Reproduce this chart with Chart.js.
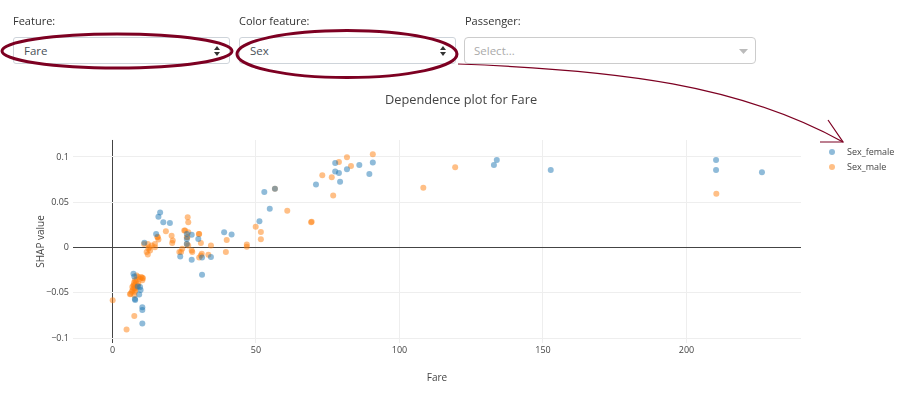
<!DOCTYPE html>
<html>
<head>
<meta charset="utf-8">
<script src="https://cdn.jsdelivr.net/npm/chart.js@4.4.1/dist/chart.umd.min.js"></script>
<style>
  body { margin: 0; background: #fff; font-family: 'Open Sans', sans-serif; }
  #page { position: relative; width: 914px; height: 399px; overflow: hidden; }
  #dependence-plot { position: absolute; left: 0; top: 0; }
  .lbl { position: absolute; top: 14px; font-size: 11px; line-height: 14px; color: #333; }
  .sel { position: absolute; top: 37px; height: 27px; box-sizing: border-box; border: 1px solid #ced4da;
         border-radius: 3px; background: #fff; font-size: 11.5px; line-height: 25px; color: #495057; padding-left: 10px; }
  .sel svg { position: absolute; right: 9px; top: 8px; }
  .legend { position: absolute; left: 828px; top: 144px; font-size: 9px; color: #444; }
  .legend div { position: relative; height: 15px; line-height: 15px; padding-left: 19px; }
  .legend span { position: absolute; left: 1px; top: 5px; width: 6px; height: 6px; border-radius: 50%; }
  #marks { position: absolute; left: 0; top: 0; }
</style>
</head>
<body>
<div id="page">
  <canvas id="dependence-plot" width="914" height="399"></canvas>

  <div class="lbl" style="left:13px">Feature:</div>
  <div class="sel" style="left:13px; width:217px">Fare
    <svg width="6" height="10"><path d="M0 4 L3 0 L6 4 Z M0 6 L3 10 L6 6 Z" fill="#333"/></svg></div>
  <div class="lbl" style="left:239px">Color feature:</div>
  <div class="sel" style="left:239px; width:217px">Sex
    <svg width="6" height="10"><path d="M0 4 L3 0 L6 4 Z M0 6 L3 10 L6 6 Z" fill="#333"/></svg></div>
  <div class="lbl" style="left:465px">Passenger:</div>
  <div class="sel" style="left:464px; width:292px; border-color:#ccc; border-radius:4px; color:#aaa; padding-left:9px">Select...
    <svg width="9" height="6" style="right:7px; top:11px"><path d="M0 0 L9 0 L4.5 5 Z" fill="#bbb"/></svg></div>

  <div class="legend" id="legend"></div>

  <svg id="marks" width="914" height="399">
    <ellipse cx="117" cy="51" rx="115" ry="17" fill="none" stroke="#7d0022" stroke-width="3"/>
    <ellipse cx="347" cy="54" rx="110" ry="23.5" fill="none" stroke="#7d0022" stroke-width="3"/>
    <path d="M458 64 C 620 70, 740 85, 843 142" fill="none" stroke="#7d0022" stroke-width="1.2"/>
    <path d="M828 120 L843 142 L820 142" fill="none" stroke="#7d0022" stroke-width="1.2"/>
  </svg>
</div>

<script>
// values
const xTicks = [0, 50, 100, 150, 200];
const yTicks = [-0.1, -0.05, 0, 0.05, 0.1];
const seriesNames = ['Sex_female', 'Sex_male'];

const femaleFare = [7.3, 7.6, 9.6, 9.8, 9.3, 7.8, 7.9, 10.4, 10.4, 10.4, 8.8,
    11.1, 15.2, 16.0, 16.6, 17.7, 20.0, 23.6, 25.9, 25.9, 25.9, 27.6, 27.6, 29.9,
    31.2, 31.2, 34.3, 38.9, 41.5, 51.2, 52.9, 54.8, 56.6,
    70.9, 77.6, 77.6, 78.9, 79.3, 81.7, 86.0, 89.5, 90.7,
    133.9, 132.9, 152.7, 210.3, 210.3, 226.3];
const femaleShap = [-0.029, -0.032, -0.0436, -0.047, -0.052, -0.057, -0.058, -0.066, -0.069, -0.084, -0.043,
    0.0052, 0.015, 0.034, 0.0388, 0.0278, 0.027, -0.010, 0.004, 0.0095, 0.015, 0.014, -0.0135, 0.0095,
    -0.011, -0.030, -0.0106, 0.0168, 0.0143, 0.0289, 0.0612, 0.0429, 0.0648,
    0.0696, 0.0934, 0.0839, 0.0824, 0.0725, 0.0865, 0.0912, 0.0813, 0.0938,
    0.0967, 0.0912, 0.0857, 0.0967, 0.0857, 0.0832];

const maleFare = [0.07, 4.9, 7.6, 6.3,
    6.1, 6.7, 7.3, 7.6, 8.1, 8.4, 9.0, 9.6, 10.4, 10.4, 9.0, 8.2, 7.0, 7.8, 7.3, 8.4, 7.8, 8.8, 6.9, 7.6,
    10.0, 10.6, 7.8, 8.0, 7.5,
    11.0, 12.3, 12.5, 13.1, 11.9, 12.3, 12.8, 13.7, 14.8, 14.8, 15.7, 16.0, 15.7, 18.6, 20.6, 21.0, 20.8,
    23.3, 24.3, 23.9, 25.0, 25.3, 26.2, 26.4, 26.4, 25.9, 26.1, 25.9, 26.4, 27.6, 27.8,
    30.1, 30.2, 30.8, 30.8, 31.1, 30.2, 33.4, 34.3, 39.5, 39.8, 46.8, 46.8,
    49.9, 51.7, 51.7, 56.6, 60.9, 69.2, 69.4,
    73.1, 76.4, 76.9, 78.9, 81.7, 83.1, 90.7, 108.3, 119.4, 210.4];
const maleShap = [-0.0582, -0.0905, -0.0758, -0.051,
    -0.0516, -0.049, -0.0454, -0.0418, -0.038, -0.0355, -0.0326, -0.0344, -0.0333, -0.0363, -0.040, -0.0436, -0.0473, -0.049, -0.0418, -0.0308, -0.0363, -0.0418, -0.0436, -0.0527,
    -0.0326, -0.034, -0.045, -0.047, -0.039,
    0.004, 0.004, -0.0014, -0.0033, -0.005, -0.0077, 0.0003, 0.0022, 0.0003, 0.004, 0.0113, 0.0088, 0.012, 0.018, 0.013, 0.0077, 0.005,
    -0.005, -0.0015, -0.005, 0.0187, 0.0187, 0.0333, 0.0278, 0.0168, 0.0113, 0.0113, 0.004, 0.0022, -0.0033, -0.005,
    0.015, 0.015, 0.0051, -0.0088, -0.0069, -0.011, -0.008, 0.0022, -0.005, 0.0084, 0.0033, 0.0008,
    0.023, 0.0172, 0.0091, 0.0648, 0.0407, 0.0278, 0.0285,
    0.0799, 0.0777, 0.0575, 0.0945, 0.0996, 0.0901, 0.103, 0.0659, 0.0887, 0.0593];

const seriesColors = ['rgba(31,119,180,0.5)', 'rgba(255,127,14,0.5)'];

function toPoints(xs, ys) {
    return xs.map((x, i) => ({x: x, y: ys[i]}));
}

function gridColor(ctx) {
    return ctx.tick && ctx.tick.value === 0 ? '#444' : '#eee';
}

Chart.defaults.font.family = "'Open Sans', sans-serif";
Chart.defaults.color = '#444';

const plotCanvas = document.getElementById('dependence-plot');
const dependenceChart = new Chart(plotCanvas, {
    type: 'scatter',
    data: {
        datasets: [
            {
                label: seriesNames[0],
                data: toPoints(femaleFare, femaleShap),
                backgroundColor: seriesColors[0],
                borderWidth: 0,
                pointRadius: 3
            },
            {
                label: seriesNames[1],
                data: toPoints(maleFare, maleShap),
                backgroundColor: seriesColors[1],
                borderWidth: 0,
                pointRadius: 3
            }
        ]
    },
    options: {
        responsive: false,
        devicePixelRatio: 1,
        animation: false,
        events: [],
        layout: { padding: { left: 8, top: 0, right: 0, bottom: 0 } },
        plugins: {
            legend: { display: false },
            tooltip: { enabled: false },
            title: {
                display: true,
                text: 'Dependence plot for Fare',
                font: { size: 12.8, weight: 'normal' },
                color: '#444',
                padding: { top: 92.3, bottom: 32.3 }
            }
        },
        scales: {
            x: {
                type: 'linear',
                min: -13.76,
                max: 239.9,
                afterBuildTicks: function(scale) {
                    scale.ticks = xTicks.map(v => ({value: v}));
                },
                afterFit: function(scale) { scale.height = 56; },
                grid: { color: gridColor, drawTicks: false },
                border: { display: false },
                ticks: { font: { size: 9 }, padding: 2, maxRotation: 0 },
                title: { display: true, text: 'Fare', font: { size: 10 }, padding: { top: 0, bottom: 15 } }
            },
            y: {
                type: 'linear',
                min: -0.1055,
                max: 0.1188,
                afterBuildTicks: function(scale) {
                    scale.ticks = yTicks.map(v => ({value: v}));
                },
                afterFit: function(scale) { scale.width = 65; },
                grid: { color: gridColor, drawTicks: false },
                border: { display: false },
                ticks: {
                    font: { size: 9 },
                    padding: 4,
                    callback: function(value) {
                        return String(Math.round(value * 1000) / 1000).replace('-', '\u2212');
                    }
                },
                title: { display: true, text: 'SHAP value', font: { size: 10 }, padding: { top: 27, bottom: 0 } }
            },
            yRight: {
                type: 'linear',
                position: 'right',
                grid: { display: false },
                border: { display: false },
                ticks: { display: false },
                afterFit: function(scale) { scale.width = 113; }
            }
        }
    }
});

// legend beside the plot, built from the datasets
const legendBox = document.getElementById('legend');
dependenceChart.data.datasets.forEach(function(ds) {
    const row = document.createElement('div');
    const dot = document.createElement('span');
    dot.style.background = ds.backgroundColor;
    row.appendChild(dot);
    row.appendChild(document.createTextNode(ds.label));
    legendBox.appendChild(row);
});
</script>
</body>
</html>
